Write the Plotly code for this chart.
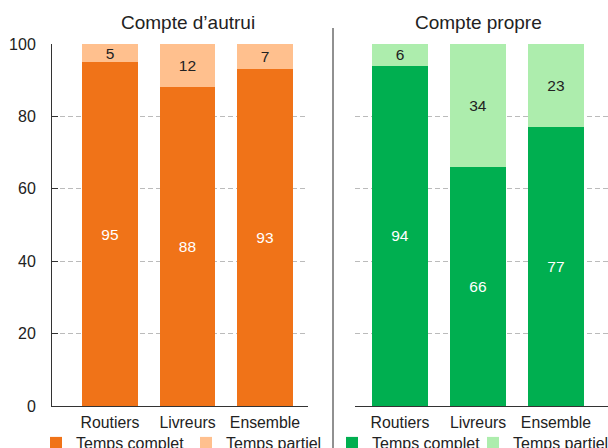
import plotly.graph_objects as go

categories = ["Routiers", "Livreurs", "Ensemble"]
autrui_complet = [95, 88, 93]
autrui_partiel = [5, 12, 7]
propre_complet = [94, 66, 77]
propre_partiel = [6, 34, 23]
series_names = ["Temps complet", "Temps partiel"]
titles = ["Compte d\u2019autrui", "Compte propre"]
y_ticks = [0, 20, 40, 60, 80, 100]

W, H = 608, 448
FONT = "Liberation Sans, Arial, Helvetica, sans-serif"
DARK = "#222222"
C_OR, C_OR_L = "#F07318", "#FFC08E"
C_GR, C_GR_L = "#00AF50", "#ADEDAD"

def px(x):
    return x / W

def py(y):
    return 1 - y / H

fig = go.Figure()

def add_bar(y, name, color, tcolor, xa, ya, legend):
    fig.add_trace(go.Bar(
        x=categories, y=y, name=name, marker_color=color, marker_line_width=0,
        width=0.72, text=[str(v) for v in y], textposition="inside", textangle=0,
        insidetextanchor="middle", textfont=dict(color=tcolor, size=15.5, family=FONT),
        xaxis=xa, yaxis=ya, legend=legend, hoverinfo="x+y+name",
    ))

add_bar(autrui_complet, series_names[0], C_OR, "white", "x", "y", "legend")
add_bar(autrui_partiel, series_names[1], C_OR_L, DARK, "x", "y", "legend")
add_bar(propre_complet, series_names[0], C_GR, "white", "x2", "y2", "legend2")
add_bar(propre_partiel, series_names[1], C_GR_L, DARK, "x2", "y2", "legend2")

ydom = [py(406), py(44)]
grid = dict(showgrid=True, gridcolor="#BBBBBB", griddash="5px,3px", gridwidth=1)

fig.update_layout(
    width=W, height=H, barmode="stack",
    margin=dict(l=0, r=0, t=0, b=0, autoexpand=False),
    paper_bgcolor="white", plot_bgcolor="white",
    font=dict(family=FONT, color=DARK, size=15),
    uniformtext=dict(minsize=15.5, mode="show"),
    xaxis=dict(domain=[px(52), px(308)], range=[-0.748, 2.555], anchor="y",
               showline=True, linecolor="#333333", linewidth=1, ticks="",
               ticklabelstandoff=2,
               tickfont=dict(size=15.8, color=DARK), fixedrange=True),
    yaxis=dict(domain=ydom, range=[0, 100], anchor="x", tickvals=y_ticks,
               showline=True, linecolor="#333333", linewidth=1,
               ticks="inside", ticklen=6, tickcolor="#333333",
               ticklabelstandoff=12, tickfont=dict(size=16, color=DARK),
               zeroline=False, fixedrange=True, **grid),
    xaxis2=dict(domain=[px(355), 1.0], range=[-0.577, 2.667], anchor="y2",
                showline=True, linecolor="#333333", linewidth=1, ticks="",
                ticklabelstandoff=2,
                tickfont=dict(size=15.8, color=DARK), fixedrange=True),
    yaxis2=dict(domain=ydom, range=[0, 100], anchor="x2", tickvals=y_ticks,
                showline=False, ticks="", showticklabels=False,
                zeroline=False, fixedrange=True, **grid),
    legend=dict(orientation="h", x=px(36), xanchor="left", y=py(443), yanchor="middle",
                font=dict(size=16, color=DARK), entrywidth=105, entrywidthmode="pixels",
                bgcolor="rgba(0,0,0,0)", traceorder="normal"),
    legend2=dict(orientation="h", x=px(332), xanchor="left", y=py(443), yanchor="middle",
                 font=dict(size=16, color=DARK), entrywidth=96, entrywidthmode="pixels",
                 bgcolor="rgba(0,0,0,0)", traceorder="normal"),
    showlegend=True,
    annotations=[
        dict(text=titles[0], x=px(188), y=py(22), xref="paper", yref="paper",
             showarrow=False, font=dict(size=19, color=DARK), xanchor="center", yanchor="middle"),
        dict(text=titles[1], x=px(478), y=py(22), xref="paper", yref="paper",
             showarrow=False, font=dict(size=19, color=DARK), xanchor="center", yanchor="middle"),
    ],
    shapes=[
        dict(type="line", xref="paper", yref="paper", x0=px(333), x1=px(333),
             y0=py(28), y1=0, line=dict(color=DARK, width=1)),
    ],
)

fig.write_html("out.html", config={"displayModeBar": False},
               post_script="document.body.style.margin='0';document.body.style.overflow='hidden';")
